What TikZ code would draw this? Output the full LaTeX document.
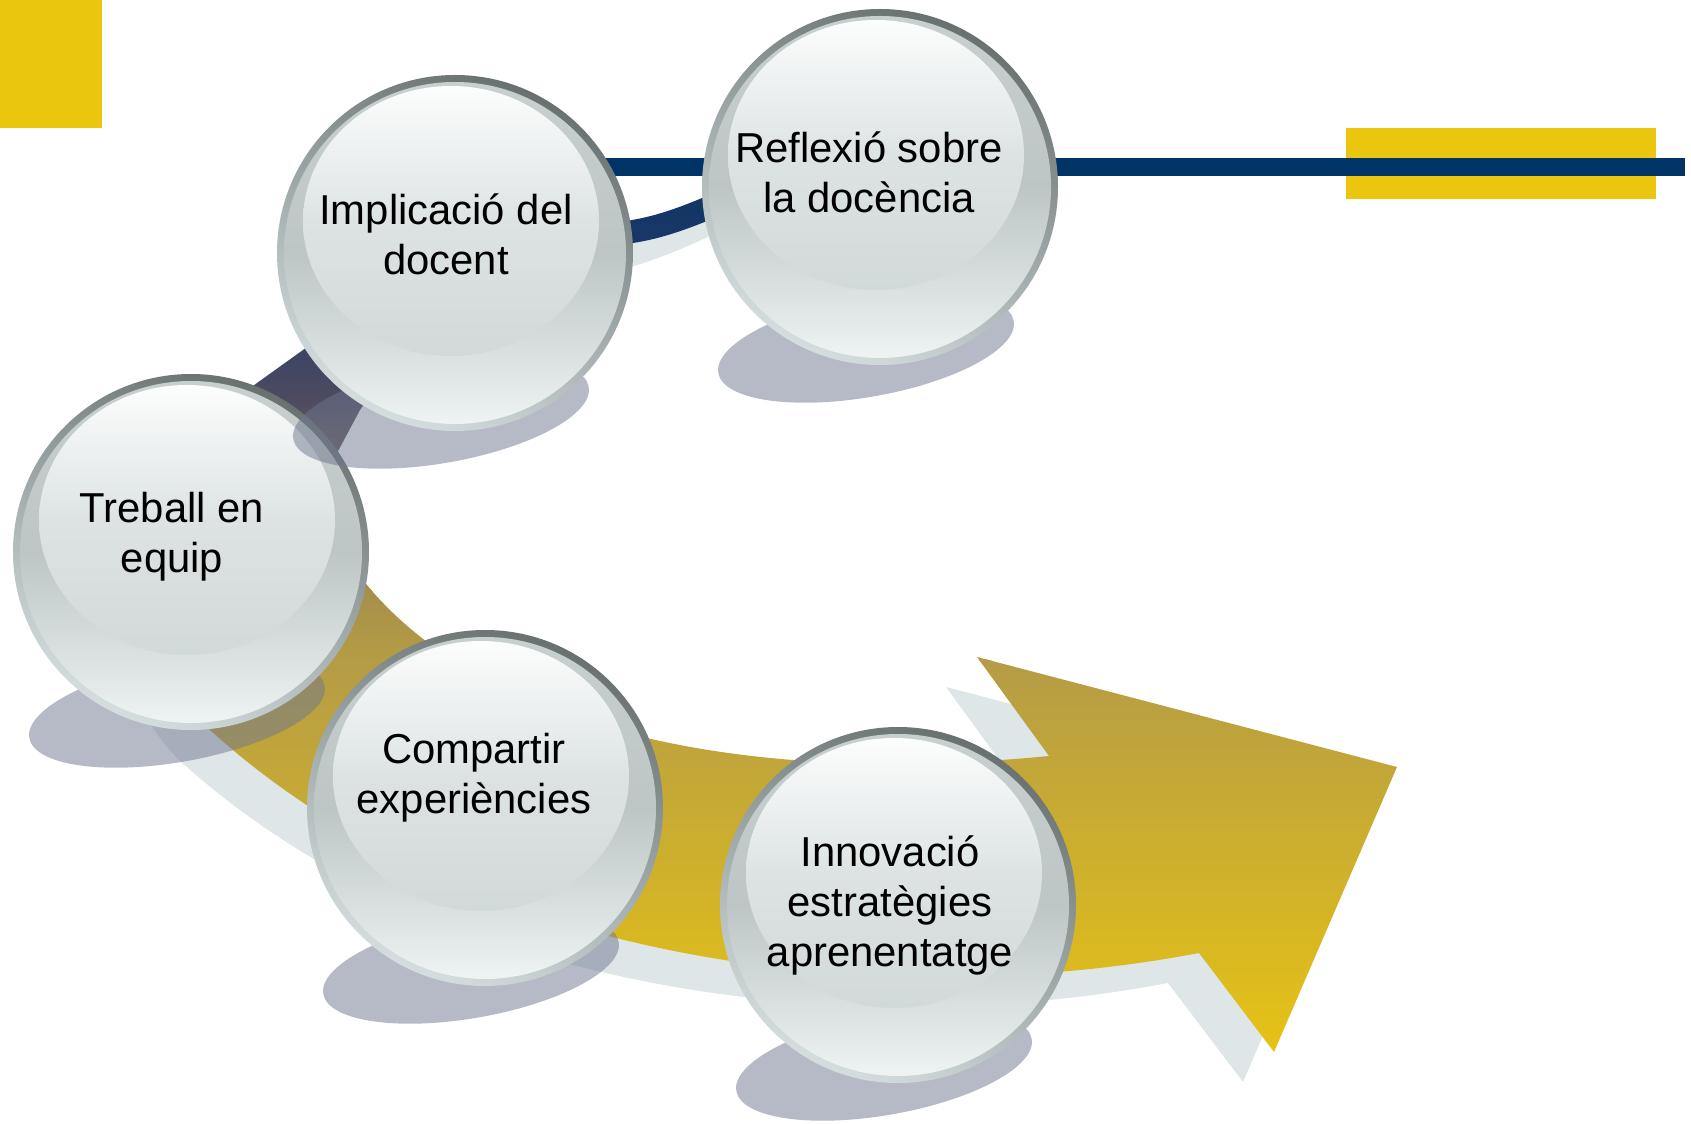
\documentclass[tikz,border=0pt]{standalone}
\usepackage{fontspec}
\setmainfont{Liberation Sans}
\definecolor{ybright}{HTML}{EBC60F}
\definecolor{linenavy}{HTML}{003466}
\definecolor{rimtop}{HTML}{687070}
\definecolor{rimbot}{HTML}{D4DEDE}
\definecolor{facetop}{HTML}{C8CFCF}
\definecolor{facemid}{HTML}{BDC5C5}
\definecolor{facebot}{HTML}{EEF3F3}
\definecolor{hltop}{HTML}{FCFDFD}
\definecolor{hlmid}{HTML}{DDE3E3}
\definecolor{hlbot}{HTML}{D2D9D9}
\definecolor{shadowc}{HTML}{6E768F}
\definecolor{ashadow}{HTML}{DFE6E8}
\definecolor{bA}{HTML}{0A3366}
\definecolor{bB}{HTML}{1B3868}
\definecolor{bC}{HTML}{4E4B61}
\definecolor{bD}{HTML}{A68F4A}
\definecolor{bE}{HTML}{B59C46}
\definecolor{bF}{HTML}{ECC70F}
\newcommand\lines[1]{\vtop{\halign{\hfil##\hfil\cr#1\crcr}}}
\def\bandpath{(790,158) .. controls (730,185) and (680,212) .. (632,220)
  .. controls (520,250) and (380,290) .. (303,350)
  -- (257,383)
  .. controls (150,460) and (110,630) .. (210,730)
  .. controls (480,975) and (900,1010) .. (1199,953)
  -- (1274,1052) -- (1397,767) -- (977,657) -- (1049,756)
  .. controls (700,790) and (470,710) .. (367,585)
  .. controls (320,530) and (320,490) .. (337,453)
  -- (360,410)
  .. controls (420,320) and (540,270) .. (633,243)
  .. controls (680,236) and (730,212) .. (790,182) -- cycle}
\newcommand\glassball[2]{%
  \begin{scope}[shift={(#1,#2)}]
    \fill[shadowc, opacity=.5, rotate around={10:(-14,160)}] (-14,160) ellipse [x radius=150, y radius=50];
    \shade[top color=rimtop, bottom color=rimbot, shading angle=-25] (0,0) circle [radius=178];
    \shade[top color=facetop, bottom color=facebot, middle color=facemid] (0,0) circle [radius=171];
    \shade[top color=hltop, bottom color=hlbot, middle color=hlmid] (-4,-32) ellipse [x radius=148, y radius=135];
  \end{scope}}
\tikzset{lbl/.style={inner sep=0pt, anchor=base, text=black, font=\fontsize{23.8}{28.35}\selectfont}}
\begin{document}
\begin{tikzpicture}[x=0.02cm, y=-0.02cm]
\useasboundingbox (0,0) rectangle (1691,1124);
% decorative bars
\fill[ybright] (0,0) rectangle (102,128);
\fill[ybright] (1346,128) rectangle (1656,199);
\fill[linenavy] (550,158) rectangle (1685,176);
% arrow shadow
\fill[ashadow, shift={(-31,30)}] \bandpath;
% arrow band with vertical colour ramp
\begin{scope}
  \clip \bandpath;
  \shade[top color=bA, bottom color=bB] (0,140) rectangle (1691,261);
  \shade[top color=bB, bottom color=bC] (0,260) rectangle (1691,401);
  \shade[top color=bC, bottom color=bD] (0,400) rectangle (1691,591);
  \shade[top color=bD, bottom color=bE] (0,590) rectangle (1691,661);
  \shade[top color=bE, bottom color=bF] (0,660) rectangle (1691,1100);
\end{scope}
% glass balls
\glassball{191}{552}
\glassball{455}{253}
\glassball{880}{187}
\glassball{485}{808}
\glassball{898}{905}
% labels
\node[lbl] (treball) at (172,523) {\lines{Treball en\cr equip}};
\node[lbl] (implicacio) at (446,225) {\lines{Implicació del\cr docent}};
\node[lbl] (reflexio) at (869,163) {\lines{Reflexió sobre\cr la docència}};
\node[lbl] (compartir) at (474,764) {\lines{Compartir\cr experiències}};
\node[lbl] (innovacio) at (890,867) {\lines{Innovació\cr estratègies\cr aprenentatge}};
\end{tikzpicture}
\end{document}
